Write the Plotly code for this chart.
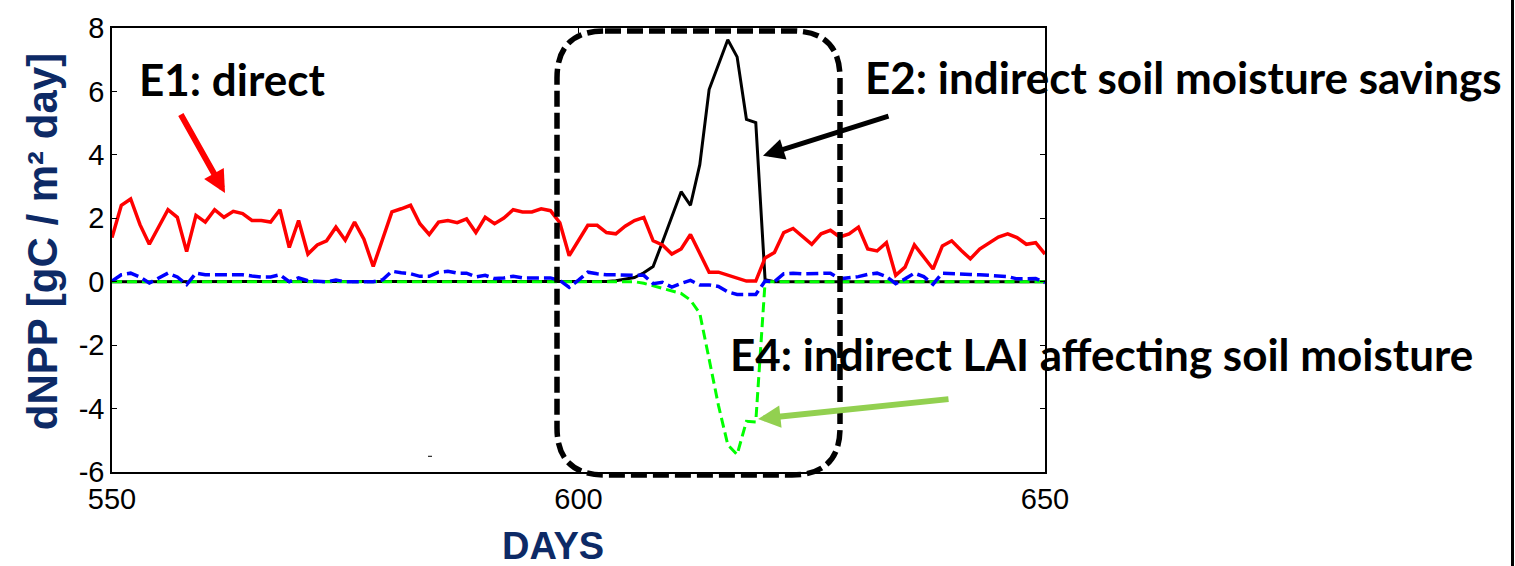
import plotly.graph_objects as go

# Daily NPP differences by effect, days 550-650
days = list(range(550, 651))

e1_direct = [
    1.39, 2.41, 2.61, 1.80, 1.18, 1.75, 2.27, 2.03, 0.95, 2.09,
    1.88, 2.27, 2.03, 2.22, 2.15, 1.93, 1.93, 1.88, 2.27, 1.08,
    1.93, 0.87, 1.16, 1.29, 1.72, 1.31, 1.88, 1.34, 0.48, 1.34,
    2.20, 2.30, 2.41, 1.83, 1.49, 1.88, 1.93, 1.86, 1.98, 1.55,
    2.03, 1.83, 2.01, 2.27, 2.20, 2.20, 2.30, 2.24, 1.86, 0.82,
    1.30, 1.78, 1.78, 1.55, 1.51, 1.75, 1.93, 2.03, 1.29, 1.16,
    0.87, 1.03, 1.49, 0.92, 0.30, 0.30, 0.20, 0.12, 0.02, 0.02,
    0.75, 0.92, 1.55, 1.68, 1.44, 1.18, 1.51, 1.62, 1.41, 1.51,
    1.72, 1.03, 0.97, 1.23, 0.20, 0.46, 1.16, 0.79, 0.40, 1.13,
    1.29, 0.99, 0.72, 1.03, 1.23, 1.41, 1.51, 1.39, 1.18, 1.23,
    0.87,
]

e2_soil_moisture = (
    [0.0] * 53
    + [0.01, 0.03, 0.07, 0.13, 0.28, 0.48, 1.25, 2.05, 2.84, 2.41,
       3.69, 6.06, 6.85, 7.63, 7.09, 5.12, 5.02, 0.06]
    + [0.0] * 30
)

e3_other = [
    0.02, 0.22, 0.27, 0.15, -0.04, 0.12, 0.27, 0.15, -0.09, 0.27,
    0.22, 0.22, 0.22, 0.22, 0.22, 0.18, 0.15, 0.15, 0.22, 0.00,
    0.12, 0.03, 0.02, 0.00, 0.05, 0.00, 0.00, 0.00, 0.00, 0.06,
    0.33, 0.28, 0.25, 0.17, 0.17, 0.30, 0.33, 0.27, 0.27, 0.15,
    0.20, 0.10, 0.12, 0.17, 0.12, 0.12, 0.12, 0.12, 0.04, -0.18,
    0.05, 0.30, 0.25, 0.22, 0.22, 0.20, 0.20, 0.20, -0.06, -0.02,
    -0.17, -0.05, 0.04, -0.10, -0.10, -0.15, -0.32, -0.40, -0.40, -0.40,
    0.02, 0.00, 0.25, 0.27, 0.25, 0.25, 0.25, 0.27, 0.09, 0.12,
    0.16, 0.23, 0.27, 0.16, -0.06, 0.09, 0.27, 0.16, -0.08, 0.27,
    0.25, 0.24, 0.23, 0.22, 0.20, 0.20, 0.16, 0.09, 0.10, 0.10,
    -0.03,
]

e4_lai = (
    [0.0] * 57
    + [-0.05, -0.13, -0.19, -0.27, -0.37, -0.58, -1.00, -2.44, -3.90,
       -5.14, -5.45, -4.40, -4.42, 0.0]
    + [0.0] * 30
)

x_ticks = [550, 600, 650]
y_ticks = [-6, -4, -2, 0, 2, 4, 6, 8]

W, H = 1515, 566
PL, PR, PT, PB = 112, 1045, 20, 472  # plot box in pixels


def px(x):
    return (x - PL) / (PR - PL)


def py(y):
    return (PB - y) / (PB - PT)


fig = go.Figure()
fig.add_trace(go.Scatter(x=days, y=e2_soil_moisture, mode="lines",
                         line=dict(color="#000000", width=3)))
fig.add_trace(go.Scatter(x=days, y=e1_direct, mode="lines",
                         line=dict(color="#FF0000", width=3.5)))
fig.add_trace(go.Scatter(x=days, y=e4_lai, mode="lines",
                         line=dict(color="#00FF00", width=3, dash="10px,5px")))
fig.add_trace(go.Scatter(x=days, y=e3_other, mode="lines",
                         line=dict(color="#0000FF", width=3.5, dash="12px,5px")))

# Rounded dashed box around the event window
L, R, T, B, r = 557, 840, 23, 475, 48
pts = [
    ("M", (L + r, T)), ("L", (R - r, T)), ("Q", (R, T), (R, T + r)),
    ("L", (R, B - r)), ("Q", (R, B), (R - r, B)), ("L", (L + r, B)),
    ("Q", (L, B), (L, B - r)), ("L", (L, T + r)), ("Q", (L, T), (L + r, T)),
]
path = ""
for cmd, *coords in pts:
    path += cmd + " ".join(f"{px(a):.5f},{py(b):.5f}" for a, b in coords) + " "
path += "Z"

shapes = [
    dict(type="path", path=path, xref="paper", yref="paper",
         line=dict(color="#000000", width=5.5, dash="16px,6px"), layer="above"),
    dict(type="line", xref="paper", yref="paper", x0=px(1512.5), x1=px(1512.5),
         y0=py(-10), y1=py(576), line=dict(color="#000000", width=3), layer="above"),
    dict(type="line", xref="paper", yref="paper", x0=px(428), x1=px(432),
         y0=py(456), y1=py(456), line=dict(color="#000000", width=1)),
]

label_font = dict(family="Lato, Carlito, Calibri, sans-serif", size=44, color="#000000")
navy = "#0D2A66"

annotations = [
    dict(text="<b>E1: direct</b>", x=px(137), y=py(72), xref="paper", yref="paper",
         xanchor="left", yanchor="middle", showarrow=False, font=label_font),
    dict(text="<b>E2: indirect soil moisture savings</b>", x=px(863), y=py(70),
         xref="paper", yref="paper", xanchor="left", yanchor="middle",
         showarrow=False, font=label_font),
    dict(text="<b>E4: indirect LAI affecting soil moisture</b>", x=px(728), y=py(352),
         xref="paper", yref="paper", xanchor="left", yanchor="middle",
         showarrow=False, font=label_font),
    # arrows
    dict(text="", x=px(225), y=py(188), xref="paper", yref="paper",
         ax=-45, ay=-80, showarrow=True, arrowhead=2, arrowsize=0.75,
         arrowwidth=6, arrowcolor="#FF0000", standoff=0),
    dict(text="", x=px(763), y=py(150), xref="paper", yref="paper",
         ax=127, ay=-40, showarrow=True, arrowhead=2, arrowsize=0.85,
         arrowwidth=5, arrowcolor="#000000", standoff=0),
    dict(text="", x=px(758), y=py(418), xref="paper", yref="paper",
         ax=192, ay=-20, showarrow=True, arrowhead=2, arrowsize=0.75,
         arrowwidth=6, arrowcolor="#92D050", standoff=0),
    # axis titles
    dict(text="<b>dNPP [gC / m² day]</b>", x=px(42), y=py(238), xref="paper",
         yref="paper", textangle=-90, showarrow=False, xanchor="center",
         yanchor="middle",
         font=dict(family="Liberation Sans, Arial, sans-serif", size=42, color=navy)),
    dict(text="<b>DAYS</b>", x=px(553), y=py(547), xref="paper", yref="paper",
         showarrow=False, xanchor="center", yanchor="middle",
         font=dict(family="Liberation Sans, Arial, sans-serif", size=38, color=navy)),
]

axis_common = dict(
    showline=True, linecolor="#000000", linewidth=1.5, mirror="ticks",
    ticks="inside", ticklen=5, tickwidth=1, tickcolor="#000000",
    showgrid=False, zeroline=False,
    tickfont=dict(family="Liberation Sans, Arial, sans-serif", size=29, color="#000000"),
)

fig.update_layout(
    width=W, height=H,
    margin=dict(l=PL, r=W - PR, t=PT, b=H - PB, pad=0),
    paper_bgcolor="#FFFFFF", plot_bgcolor="#FFFFFF",
    showlegend=False,
    xaxis=dict(range=[550, 650], tickvals=x_ticks, ticktext=[str(v) for v in x_ticks],
               **axis_common),
    yaxis=dict(range=[-6, 8], tickvals=y_ticks, ticktext=[str(v) for v in y_ticks],
               **axis_common),
    shapes=shapes,
    annotations=annotations,
)

fig.write_html("out.html")
